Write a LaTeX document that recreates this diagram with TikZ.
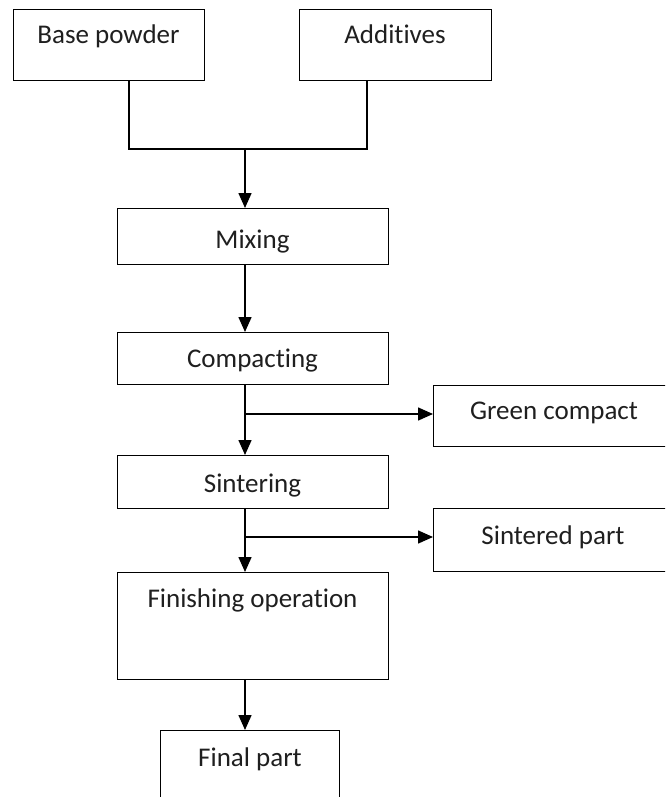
\documentclass[tikz,border=0pt]{standalone}
\usepackage{fontspec}
\setmainfont{Carlito}[RawFeature={-liga;-clig;-dlig;-calt}]
\usetikzlibrary{arrows.meta}
\begin{document}
\begin{tikzpicture}[x=1pt,y=-1pt,
  box/.style={draw, line width=1.3pt, rectangle, inner sep=0pt, anchor=north west},
  lbl/.style={font=\fontsize{27}{30}\selectfont, inner sep=0pt, anchor=base, text=black!88},
  conn/.style={line width=1.5pt},
  arr/.style={conn, -{Triangle[width=13pt,length=15pt]}}]
\useasboundingbox (0,0) rectangle (665,797);
\fill[white] (0,0) rectangle (665,797);
\clip (0,0) rectangle (665,797);

% boxes
\node[box, minimum width=191pt, minimum height=71pt] (bp) at (13,9) {};
\node[box, minimum width=192pt, minimum height=71pt] (ad) at (299,9) {};
\node[box, minimum width=271pt, minimum height=56pt] (mix) at (117,208) {};
\node[box, minimum width=271pt, minimum height=52pt] (comp) at (117,332) {};
\node[box, minimum width=242pt, minimum height=61pt] (gc) at (433,385) {};
\node[box, minimum width=271pt, minimum height=53pt] (sint) at (117,455) {};
\node[box, minimum width=242pt, minimum height=63pt] (sp) at (433,508) {};
\node[box, minimum width=271pt, minimum height=107pt] (fin) at (117,572) {};
\node[box, minimum width=179pt, minimum height=90pt] (final) at (160,730) {};

% labels
\node[lbl] (bpt) at (108.5,44) {Base powder};
\node[lbl] (adt) at (395,44) {Additives};
\node[lbl] (mixt) at (252.5,248) {Mixing};
\node[lbl] (compt) at (252.5,367) {Compacting};
\node[lbl] (gct) at (554,419) {Green compact};
\node[lbl] (sintt) at (252.5,492) {Sintering};
\node[lbl] (spt) at (553,544) {Sintered part};
\node[lbl] (fint) at (252.5,607) {Finishing operation};
\node[lbl] (finalt) at (250,766) {Final part};

% connector coordinates
\coordinate (j1) at (129,149);
\coordinate (j2) at (367,149);
\coordinate (jm) at (245,149);
\coordinate (axis) at (245,0);
\coordinate (b1) at (245,414);
\coordinate (b2) at (245,537);

% connectors
\draw[conn] (j1 |- bp.south) -- (j1) -- (j2) -- (j2 |- ad.south);
\draw[arr] (jm) -- (jm |- mix.north);
\draw[arr] (axis |- mix.south) -- (axis |- comp.north);
\draw[arr] (axis |- comp.south) -- (axis |- sint.north);
\draw[arr] (b1) -- (b1 -| gc.west);
\draw[arr] (axis |- sint.south) -- (axis |- fin.north);
\draw[arr] (b2) -- (b2 -| sp.west);
\draw[arr] (axis |- fin.south) -- (axis |- final.north);
\end{tikzpicture}
\end{document}
